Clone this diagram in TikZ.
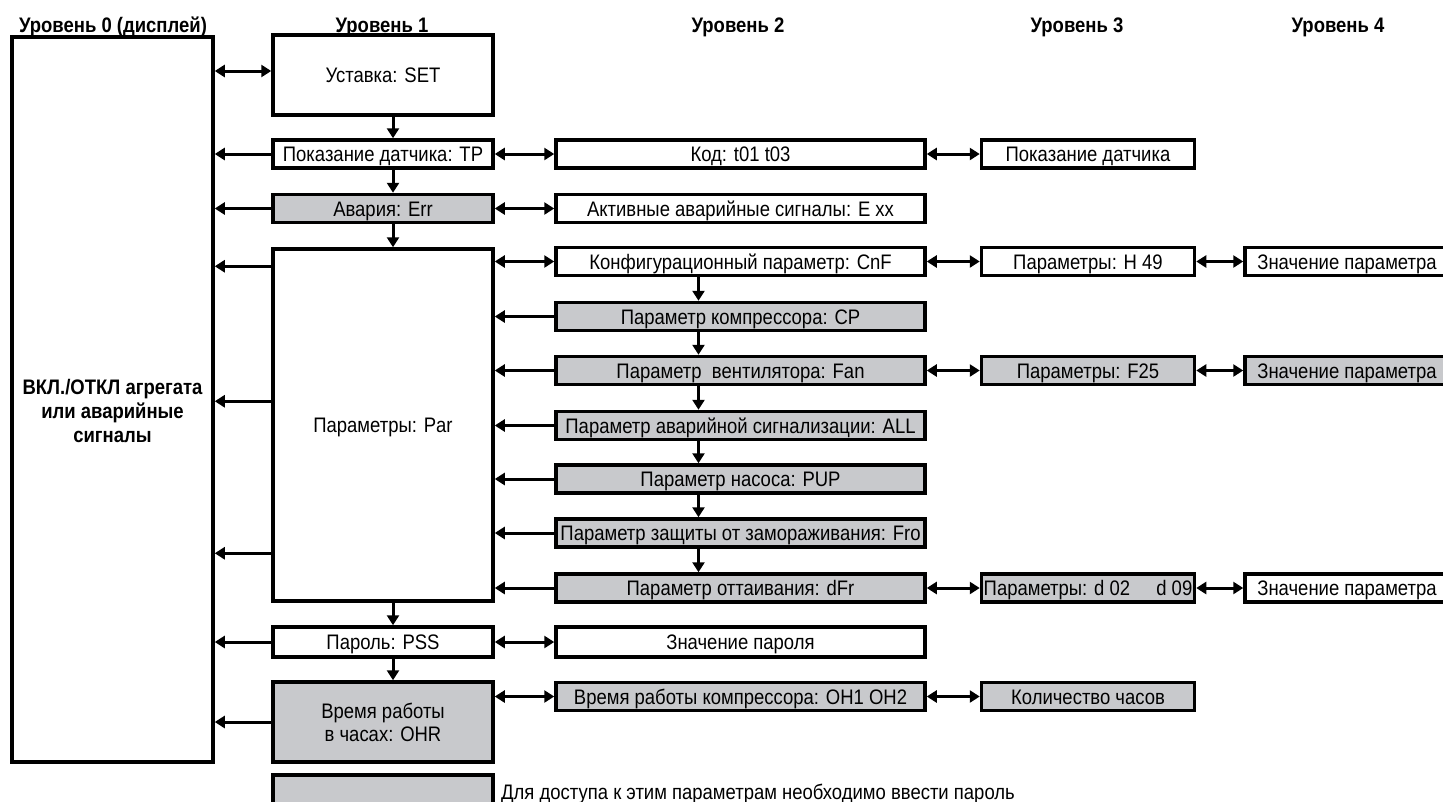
\documentclass[tikz,border=0pt]{standalone}
\usepackage{fontspec}
\setmainfont{Liberation Sans}[FakeStretch=0.88]
\usetikzlibrary{arrows.meta}
\definecolor{boxgray}{RGB}{200,201,204}
\begin{document}
\begin{tikzpicture}[x=1pt,y=-1pt,
  bx/.style={draw, line width=3.5pt, inner sep=0pt, font=\fontsize{21}{24}\selectfont, text height=15pt, text depth=0pt, anchor=center},
  wbox/.style={bx, fill=white},
  gbox/.style={bx, fill=boxgray},
  txt/.style={font=\fontsize{21}{23}\selectfont, inner sep=0pt},
  hdr/.style={font=\bfseries\fontsize{21}{24}\selectfont, anchor=base, inner sep=0pt},
  arr/.style={line width=3pt, -{Triangle[length=10pt,width=12pt]}},
  dbl/.style={line width=3pt, {Triangle[length=10pt,width=12pt]}-{Triangle[length=10pt,width=12pt]}},
  lone/.style={minimum width=220pt},
  ltwo/.style={minimum width=369pt},
  lthree/.style={minimum width=213pt},
  lfour/.style={minimum width=204pt},
  small/.style={minimum height=28pt},
]
\useasboundingbox (0,0) rectangle (1443,801);
\clip (0,0) rectangle (1443,801);

% headers
\node[hdr] (h0) at (113,32) {Уровень 0 (дисплей)};
\node[hdr] (h1) at (382,32) {Уровень 1};
\node[hdr] (h2) at (738,32) {Уровень 2};
\node[hdr] (h3) at (1077,32) {Уровень 3};
\node[hdr] (h4) at (1338,32) {Уровень 4};

% level 0
\node[wbox, minimum width=201pt, minimum height=725pt] (l0) at (112.5,399.5) {};
\node[font=\bfseries\fontsize{21}{24}\selectfont, align=center, inner sep=0pt] (l0txt) at (112.5,411) {ВКЛ./ОТКЛ агрегата\\или аварийные\\сигналы};

% level 1
\node[wbox,lone,minimum height=80pt] (set) at (383,75) {Уставка: SET};
\node[wbox,lone,small] (tp) at (383,154) {Показание датчика: TP};
\node[gbox,lone,small] (err) at (383,208.5) {Авария: Err};
\node[wbox,lone,minimum height=352pt] (par) at (383,425) {Параметры: Par};
\node[wbox,lone,minimum height=30pt] (pss) at (383,642) {Пароль: PSS};
\node[gbox,lone,minimum height=80pt] (ohr) at (383,722) {};
\node[txt, align=center] (ohrtxt) at (383,722) {Время работы\\в часах: OHR};

% legend
\node[gbox,lone,minimum height=50pt] (leg) at (383,800) {};
\node[txt, anchor=base west] (legtxt) at (501,799) {Для доступа к этим параметрам необходимо ввести пароль};

% level 2
\node[wbox,ltwo,small] (kod) at (740.5,154) {Код: t01 t03};
\node[wbox,ltwo,small] (alarms) at (740.5,208.5) {Активные аварийные сигналы: E xx};
\node[wbox,ltwo,small] (cnf) at (740.5,261.5) {Конфигурационный параметр: CnF};
\node[gbox,ltwo,small] (cp) at (740.5,316.5) {Параметр компрессора: CP};
\node[gbox,ltwo,small] (fan) at (740.5,370.5) {Параметр\ \ вентилятора: Fan};
\node[gbox,ltwo,small] (all) at (740.5,425.5) {Параметр аварийной сигнализации: ALL};
\node[gbox,ltwo,small] (pup) at (740.5,479) {Параметр насоса: PUP};
\node[gbox,ltwo,small] (fro) at (740.5,533) {Параметр защиты от замораживания: Fro};
\node[gbox,ltwo,small] (dfr) at (740.5,588) {Параметр оттаивания: dFr};
\node[wbox,ltwo,minimum height=30pt] (pwd) at (740.5,642) {Значение пароля};
\node[gbox,ltwo,small] (oh) at (740.5,696.5) {Время работы компрессора: OH1 OH2};

% level 3
\node[wbox,lthree,small] (sens) at (1088,154) {Показание датчика};
\node[wbox,lthree,small] (h49) at (1088,261.5) {Параметры: H 49};
\node[gbox,lthree,small] (f25) at (1088,370.5) {Параметры: F25};
\node[gbox,lthree,small] (d02) at (1088,588) {Параметры: d 02\quad\ d 09};
\node[gbox,lthree,small] (hours) at (1088,696.5) {Количество часов};

% level 4
\node[wbox,lfour,small] (v1) at (1347,261.5) {Значение параметра};
\node[gbox,lfour,small] (v2) at (1347,370.5) {Значение параметра};
\node[wbox,lfour,small] (v3) at (1347,588) {Значение параметра};

% connectors to level 0
\coordinate (s0) at ([yshift=4pt]set.west);
\draw[dbl] (s0 -| l0.east) -- (s0);
\draw[arr] (tp.west) -- (tp.west -| l0.east);
\draw[arr] (err.west) -- (err.west -| l0.east);
\coordinate (pa) at ([yshift=-19pt]par.north west);
\coordinate (pb) at ([yshift=-154pt]par.north west);
\coordinate (pc) at ([yshift=-306pt]par.north west);
\draw[arr] (pa) -- (pa -| l0.east);
\draw[arr] (pb) -- (pb -| l0.east);
\draw[arr] (pc) -- (pc -| l0.east);
\draw[arr] (pss.west) -- (pss.west -| l0.east);
\draw[arr] (ohr.west) -- (ohr.west -| l0.east);

% level 1 vertical
\draw[arr] ([xshift=10pt]set.south) -- ([xshift=10pt]tp.north);
\draw[arr] ([xshift=10pt]tp.south) -- ([xshift=10pt]err.north);
\draw[arr] ([xshift=10pt]err.south) -- ([xshift=10pt]par.north);
\draw[arr] ([xshift=10pt]par.south) -- ([xshift=10pt]pss.north);
\draw[arr] ([xshift=10pt]pss.south) -- ([xshift=10pt]ohr.north);

% level 1 <-> level 2
\draw[dbl] (tp.east) -- (kod.west);
\draw[dbl] (err.east) -- (alarms.west);
\draw[dbl] (cnf.west -| par.east) -- (cnf.west);
\draw[dbl] (pss.east) -- (pwd.west);
\draw[dbl] (oh.west -| ohr.east) -- (oh.west);
\foreach \n in {cp,fan,all,pup,fro,dfr}{
  \draw[arr] (\n.west) -- (\n.west -| par.east);
}

% level 2 vertical
\draw[arr] ([xshift=-42pt]cnf.south) -- ([xshift=-42pt]cp.north);
\draw[arr] ([xshift=-42pt]cp.south) -- ([xshift=-42pt]fan.north);
\draw[arr] ([xshift=-42pt]fan.south) -- ([xshift=-42pt]all.north);
\draw[arr] ([xshift=-42pt]all.south) -- ([xshift=-42pt]pup.north);
\draw[arr] ([xshift=-42pt]pup.south) -- ([xshift=-42pt]fro.north);
\draw[arr] ([xshift=-42pt]fro.south) -- ([xshift=-42pt]dfr.north);

% level 2 <-> level 3
\draw[dbl] (kod.east) -- (sens.west);
\draw[dbl] (cnf.east) -- (h49.west);
\draw[dbl] (fan.east) -- (f25.west);
\draw[dbl] (dfr.east) -- (d02.west);
\draw[dbl] (oh.east) -- (hours.west);

% level 3 <-> level 4
\draw[dbl] (h49.east) -- (v1.west);
\draw[dbl] (f25.east) -- (v2.west);
\draw[dbl] (d02.east) -- (v3.west);
\end{tikzpicture}
\end{document}
